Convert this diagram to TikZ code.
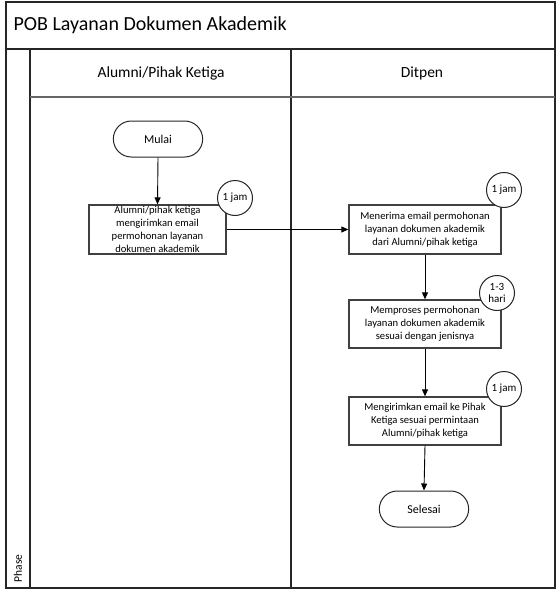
\documentclass[tikz,border=0pt]{standalone}
\usepackage{fontspec}
\setmainfont{Carlito}
\usetikzlibrary{arrows.meta,shapes.misc}
\begin{document}
\begin{tikzpicture}[x=1pt,y=-1pt,
  frame/.style={draw=black!85, line width=1.2pt},
  proc/.style={draw=black!75, line width=1.3pt, fill=white, rectangle, inner sep=0pt, align=center,
    font=\fontsize{10.6}{13}\selectfont},
  term/.style={draw=black!85, line width=1pt, fill=white, rounded rectangle, font=\fontsize{12}{14}\selectfont},
  timer/.style={draw=black!85, line width=1pt, fill=white, circle, minimum size=35pt, inner sep=0pt, align=center,
    font=\fontsize{11}{12}\selectfont},
  flow/.style={draw=black, line width=0.9pt, -{Triangle[length=7pt,width=6pt]}}
]
\useasboundingbox (0,0) rectangle (558,594);
\fill[white] (0,0) rectangle (558,594);
% frame
\draw[frame] (6,2) rectangle (555,588);
\draw[frame] (6,49) -- (555,49);
\draw[frame] (30,49) -- (30,588);
\draw[frame] (291,49) -- (291,588);
\draw[draw=black!60, line width=1.2pt] (30,97) -- (555,97);
\node[anchor=west, font=\fontsize{20}{24}\selectfont] (title) at (10,25) {POB Layanan Dokumen Akademik};
\node[font=\fontsize{15.5}{18}\selectfont] (lane1) at (161,73) {Alumni/Pihak Ketiga};
\node[font=\fontsize{15.5}{18}\selectfont] (lane2) at (422,73) {Ditpen};
\node[rotate=90, anchor=west, font=\fontsize{11.5}{13}\selectfont] (phase) at (18,586) {Phase};
% nodes
\node[term, minimum width=96pt, minimum height=36pt] (mulai) at (158,139) {Mulai};
\node[proc, minimum width=137pt, minimum height=49pt] (b1) at (157.5,229.5) {Alumni/pihak ketiga\\mengirimkan email\\permohonan layanan\\dokumen akademik};
\node[proc, minimum width=152pt, minimum height=49pt] (b2) at (425,229.5) {Menerima email permohonan\\layanan dokumen akademik\\dari Alumni/pihak ketiga};
\node[proc, minimum width=152pt, minimum height=48pt] (b3) at (425,324) {Memproses permohonan\\layanan dokumen akademik\\sesuai dengan jenisnya};
\node[proc, minimum width=152pt, minimum height=48pt] (b4) at (425,421) {Mengirimkan email ke Pihak\\Ketiga sesuai permintaan\\Alumni/pihak ketiga};
\node[term, minimum width=96pt, minimum height=36pt] (selesai) at (424,509) {Selesai};
% timers
\node[timer] (t1) at (235,198) {1 jam};
\node[timer] (t2) at (504,190) {1 jam};
\node[timer] (t3) at (497,293) {1-3\\hari};
\node[timer] (t4) at (504,389) {1 jam};
% flows
\draw[flow] (mulai.south) -- (b1.north);
\draw[flow] (b1.east) -- (b2.west);
\draw[flow] (b2.south) -- (b3.north);
\draw[flow] (b3.south) -- (b4.north);
\draw[flow] (b4.south) -- (selesai.north);
\end{tikzpicture}
\end{document}
